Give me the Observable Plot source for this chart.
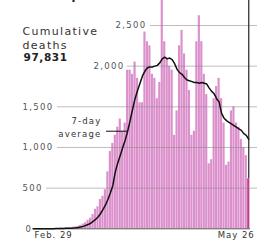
<!DOCTYPE html>
<html><head><meta charset="utf-8">
<script src="https://cdn.jsdelivr.net/npm/d3@7"></script>
<script src="https://cdn.jsdelivr.net/npm/@observablehq/plot@0.6"></script>
<style>
body{margin:0;background:#fff;}
svg{display:block;}
</style>
</head><body><div id="chart"></div>
<script>
// ---- data ----
const startDate = "2020-02-29";
const daily = [
  1,1,4,1,3,1,2,2,3,4,
  4,8,7,10,10,11,20,23,31,42,
  58,75,105,130,175,240,270,360,400,480,
  700,950,1050,1150,1250,1350,1200,1300,1950,1950,
  1900,2050,1850,1550,1550,2420,2300,2250,1900,1850,
  1600,1800,2850,2300,2100,2000,1950,1150,1450,2250,
  2440,2150,1950,1700,1150,1200,2300,2620,2300,1900,
  1650,800,850,1600,1750,1850,1600,1300,780,820,
  1450,1500,1300,1250,1100,1000,900,615
];
const avg7 = [
  0,0,1,1,2,2,2,2,2,3,
  3,4,5,6,7,8,10,13,17,22,
  30,40,52,68,90,115,145,185,235,290,
  360,440,530,700,810,900,1000,1090,1200,1330,
  1470,1600,1700,1790,1880,1940,1980,1990,1990,2000,
  2010,2040,2090,2110,2090,2100,2080,2030,1960,1920,
  1900,1860,1830,1820,1810,1800,1800,1790,1800,1790,
  1780,1730,1690,1660,1600,1560,1420,1360,1330,1310,
  1290,1270,1250,1230,1210,1170,1150,1100
];
const yTicks = [0,500,1000,1500,2000,2500];
const yTickLabels = ["0","500","1,000","1,500","2,000","2,500"];
const xTickLabels = ["Feb. 29","May 26"];
const totalLabel = "Cumulative\ndeaths";
const totalValue = "97,831";
const asOf = "As of 3 p.m.";
const avgLabel = ["7-day","average"];

// ---- helpers ----
const t0 = new Date(startDate + "T00:00:00Z");
const DAY = 864e5;
const at = d => new Date(+t0 + d*DAY);
const n = daily.length;
const rows = daily.map((v,i)=>({x1: at(i), x2: at(i+1), xc: at(i+0.5), v, a: avg7[i]}));

// ---- layout (pixels) ----
const W = 262, H = 243;
const xRange = [32, 249.5];
const yRange = [228.3, 25];
const xs = d3.scaleUtc().domain([t0, at(n)]).range(xRange);
const px = p => xs.invert(p);
const tickLabelX = [25,22,22,22,93,115];
const gridX1 = [32,46,57,57,127,150];
const gridX2 = [250,257,257,257,257,257];
const ticks = yTicks.map((v,i)=>({v, label: yTickLabels[i], lx: px(tickLabelX[i]), g1: px(gridX1[i]), g2: px(gridX2[i])}));
const leaderDay = 38;

const chart = Plot.plot({
  width: W, height: H,
  margin: 0,
  style: {fontFamily: "'DejaVu Sans', sans-serif", background: "#fff", overflow: "hidden"},
  x: {type: "utc", domain: [t0, at(n)], range: xRange, axis: null},
  y: {domain: [0, 2500], range: yRange, axis: null},
  marks: [
    Plot.rectY(rows.slice(0, n-1), {x1: "x1", x2: "x2", y: "v", fill: "#db90cb", insetLeft: 0.15, insetRight: 0.15}),
    Plot.rectY(rows.slice(n-1), {x1: "x1", x2: "x2", y: "v", fill: "#bd3c8c", insetLeft: 0.15, insetRight: 0.15}),
    Plot.ruleY(ticks.filter(t=>t.v>0), {y: "v", x1: "g1", x2: "g2", stroke: "#888", strokeOpacity: 0.55, strokeWidth: 1}),
    Plot.ruleY(ticks.filter(t=>t.v===0), {y: "v", x1: "g1", x2: "g2", stroke: "#555", strokeWidth: 1}),
    Plot.line(rows, {x: "xc", y: "a", stroke: "#111", strokeWidth: 1.5, curve: "linear"}),
    Plot.ruleX([rows[n-1]], {x: "xc", y1: "v", y2: 2950, stroke: "#222", strokeWidth: 1.2}),
    Plot.ruleY([avg7[leaderDay]], {x1: px(106), x2: rows[leaderDay].xc, stroke: "#111", strokeWidth: 1}),
    Plot.text(ticks, {x: "lx", y: "v", text: "label", textAnchor: "start", lineAnchor: "middle", fontSize: 8.5, fill: "#555"}),
    Plot.text([avgLabel[1]], {x: px(101), y: avg7[leaderDay], text: d=>d, textAnchor: "end", lineAnchor: "middle", dy: 3, fontSize: 8.5, fill: "#333"}),
    Plot.text([avgLabel[0]], {x: px(101), y: avg7[leaderDay], text: d=>d, textAnchor: "end", lineAnchor: "middle", dy: -10, fontSize: 8.5, fill: "#333"}),
    Plot.text([xTickLabels[0]], {x: t0, y: 0, text: d=>d, textAnchor: "start", lineAnchor: "middle", dx: 2, dy: 6.5, fontSize: 8.5, fill: "#333"}),
    Plot.text([xTickLabels[1]], {x: at(n-0.5), y: 0, text: d=>d, textAnchor: "end", lineAnchor: "middle", dx: 6, dy: 6.5, fontSize: 8.5, fill: "#333"}),
    Plot.text([totalLabel], {frameAnchor: "top-left", text: d=>d, dx: 22, dy: 25.5, textAnchor: "start", lineAnchor: "top", lineHeight: 1.2, fontSize: 11, fill: "#333"}),
    Plot.text([totalValue], {frameAnchor: "top-left", text: d=>d, dx: 23, dy: 53, textAnchor: "start", lineAnchor: "top", fontSize: 10.5, fontWeight: "bold", fill: "#222"}),
    Plot.text([asOf], {frameAnchor: "top-left", text: d=>d, dx: 20, dy: -2, textAnchor: "start", lineAnchor: "bottom", fontSize: 11.5, fontWeight: "bold", fill: "#222"})
  ]
});
// letter spacing to match the wide lettering of the original
d3.select(chart).selectAll("text").each(function(){
  const t = this.textContent;
  let ls = 1.2;
  if (yTickLabels.includes(t)) ls = 1.3;
  else if (xTickLabels.includes(t)) ls = 1.0;
  else if (avgLabel.includes(t)) ls = 1.2;
  else if (t === totalValue) ls = 0.6;
  else if (t === asOf) ls = 0.3;
  else ls = 1.3;
  d3.select(this).style("letter-spacing", ls + "px");
});
document.getElementById("chart").appendChild(chart);
</script>
</body></html>
